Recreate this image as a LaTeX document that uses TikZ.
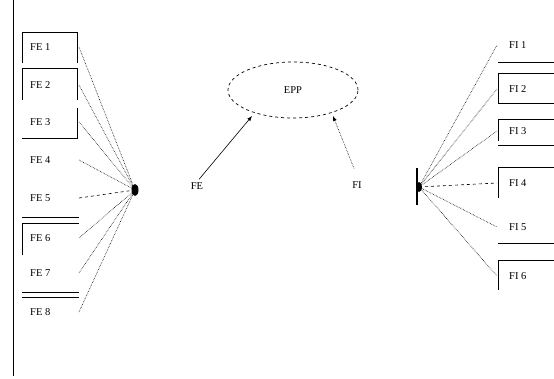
\documentclass[tikz,border=0pt]{standalone}
\usepackage{fontspec}
\setmainfont{Liberation Serif}
\usetikzlibrary{arrows.meta,shapes.geometric}
\begin{document}
\begin{tikzpicture}[x=1pt,y=-1pt,
  lbl/.style={inner sep=1pt,font=\fontsize{10.5}{12}\selectfont},
  llbl/.style={lbl,anchor=west},
  frame/.style={draw,line width=0.8pt},
  link/.style={densely dotted,line width=0.6pt},
  linkd/.style={dashed,line width=0.6pt},
  arr/.style={-{Latex[length=5pt,width=4pt]},line width=0.6pt}]
\useasboundingbox (0,0) rectangle (554,378);
% left rule
\draw[line width=1pt] (13,0) -- (13,376);
% left frames
\draw[frame] (22,63) -- (22,32) -- (77,32) -- (77,63);
\draw[frame] (22,100) -- (22,68) -- (77,68) -- (77,100);
\draw[frame] (77,108) -- (77,138) -- (22,138);
\draw[frame] (22,217) -- (79,217);
\draw[frame] (22,255) -- (22,223) -- (79,223);
\draw[frame] (22,292) -- (79,292);
\draw[frame] (22,297) -- (79,297);
% right frames
\draw[frame] (498,62) -- (554,62);
\draw[frame] (498,103) -- (498,73) -- (554,73);
\draw[frame] (498,103) -- (554,103);
\draw[frame] (498,141) -- (498,119) -- (554,119);
\draw[frame] (498,145) -- (554,145);
\draw[frame] (498,198) -- (498,167) -- (554,167);
\draw[frame] (498,243) -- (554,243);
\draw[frame] (498,290) -- (498,260) -- (554,260);
% left labels
\node[llbl] (fe1) at (29,47) {FE 1};
\node[llbl] (fe2) at (29,85) {FE 2};
\node[llbl] (fe3) at (29,122) {FE 3};
\node[llbl] (fe4) at (29,160) {FE 4};
\node[llbl] (fe5) at (29,198) {FE 5};
\node[llbl] (fe6) at (29,238) {FE 6};
\node[llbl] (fe7) at (29,273) {FE 7};
\node[llbl] (fe8) at (29,312) {FE 8};
% right labels
\node[llbl] (fi1) at (508,45) {FI 1};
\node[llbl] (fi2) at (508,89) {FI 2};
\node[llbl] (fi3) at (508,131) {FI 3};
\node[llbl] (fi4) at (508,183) {FI 4};
\node[llbl] (fi5) at (508,227) {FI 5};
\node[llbl] (fi6) at (508,276) {FI 6};
% centre
\node[draw,dashed,ellipse,line width=0.7pt,minimum width=130pt,minimum height=56pt,inner sep=0pt,lbl] (epp) at (293,90) {EPP};
\node[lbl] (fe) at (197,186) {FE};
\node[lbl] (fi) at (357,185) {FI};
% hubs
\coordinate (hl) at (135,190);
\coordinate (hr) at (419,187);
\coordinate (lx) at (79,0);
\coordinate (rx) at (497,0);
\fill (hl) ellipse (3.5pt and 6pt);
\draw[line width=1.2pt] (417,168) -- (417,205);
\fill (hr) ellipse (3pt and 5pt);
% left links
\foreach \n in {fe1,fe2,fe3,fe4,fe6,fe7,fe8}{\draw[link] (\n -| lx) -- (hl);}
\draw[linkd] (fe5 -| lx) -- (hl);
% right links
\foreach \n in {fi1,fi2,fi3,fi5,fi6}{\draw[link] (hr) -- (\n -| rx);}
\draw[linkd] (hr) -- (fi4 -| rx);
% arrows to EPP
\draw[arr] (fe.north) ++(2,-2) -- (252,116);
\draw[arr,densely dotted] (fi.north) ++(-3,-12) -- (333,116);
\end{tikzpicture}
\end{document}
